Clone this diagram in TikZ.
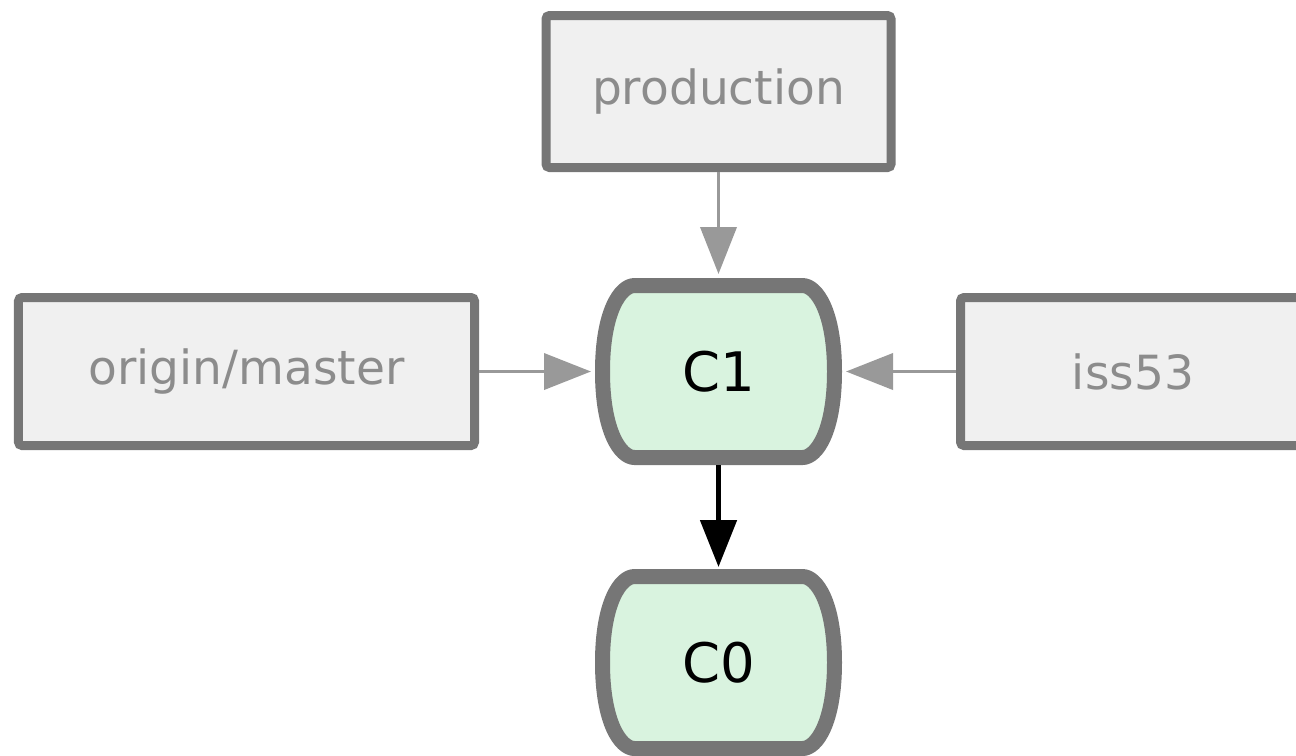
\documentclass[tikz,border=0pt]{standalone}
\usepackage{fontspec}
\setmainfont{DejaVu Sans}
\usepackage{xcolor}
\usepackage{tikz}
\usetikzlibrary{arrows.meta, positioning, backgrounds}
\definecolor{edge}{HTML}{767676}
\definecolor{labelfill}{HTML}{F0F0F0}
\definecolor{labeltext}{HTML}{8C8C8C}
\definecolor{commitfill}{HTML}{D9F3DF}
\definecolor{pointer}{HTML}{999999}

\begin{document}
\begin{tikzpicture}[
  commit/.style={rectangle, minimum width=2.47cm, minimum height=1.87cm, outer sep=0pt, font=\fontsize{15.5}{18}\selectfont},
  commitline/.style={draw=edge, fill=commitfill, line width=0.15cm, line join=round},
  branch/.style={rectangle, draw=edge, line width=0.09cm, fill=labelfill, rounded corners=1pt, minimum height=1.48cm, text=labeltext, font=\fontsize{13.4}{16}\selectfont},
  ref/.style={-{Triangle[length=0.47cm, width=0.36cm]}, line width=1.1pt, pointer, shorten >=0.04cm},
  parent/.style={-{Triangle[length=0.47cm, width=0.36cm]}, line width=1.4pt, black, shorten >=0.02cm}
]
  \useasboundingbox (0,0) rectangle (12.96,-7.55);

  \node[commit] (c1) at (7.185,-3.715) {C1};
  \node[commit, below=1.04cm of c1] (c0) {C0};

  % commit outlines go behind the labels
  \begin{scope}[on background layer]
    \foreach \c in {c1, c0}
      \draw[commitline, shift={(\c.center)}]
        (-0.84,0.86) -- (0.84,0.86) .. controls (0.98,0.86) and (1.16,0.6) .. (1.16,0)
        .. controls (1.16,-0.6) and (0.98,-0.86) .. (0.84,-0.86) -- (-0.84,-0.86)
        .. controls (-0.98,-0.86) and (-1.16,-0.6) .. (-1.16,0)
        .. controls (-1.16,0.6) and (-0.98,0.86) .. (-0.84,0.86) -- cycle;
  \end{scope}

  \node[branch, minimum width=3.45cm, minimum height=1.52cm, above=1.06cm of c1] (production) {production};
  \node[branch, minimum width=4.56cm, left=1.16cm of c1] (master) {origin/master};
  \node[branch, minimum width=3.45cm, right=1.14cm of c1] (iss53) {iss53};

  \draw[parent] (c1) -- (c0);
  \draw[ref] (production) -- (c1);
  \draw[ref] (master) -- (c1);
  \draw[ref] (iss53) -- (c1);
\end{tikzpicture}
\end{document}
